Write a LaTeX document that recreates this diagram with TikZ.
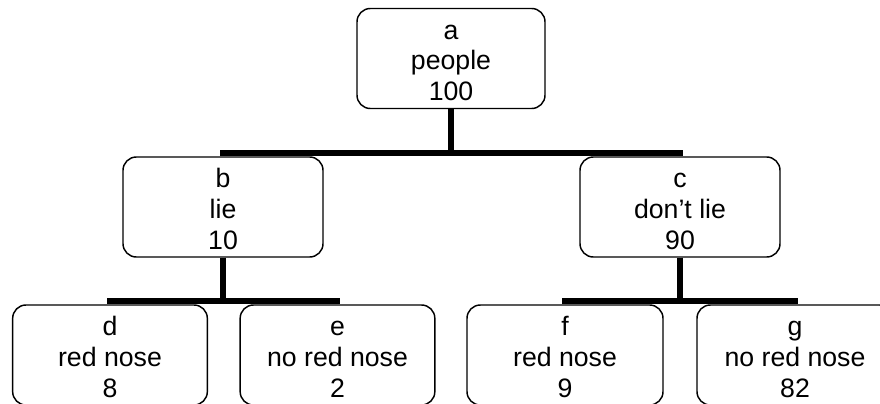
\documentclass[tikz,border=0pt]{standalone}
\usepackage{fontspec}
\setmainfont{Liberation Sans}
\usetikzlibrary{positioning}
\tikzset{
    x=0.75pt,
    y=-0.75pt,
    group/.style = {
        draw,
        shape=rectangle,
        rounded corners=10pt,
        line width=1.1pt,
        minimum height=75pt,
        inner ysep=0pt,
        align=center,
        text height=67pt,
        text depth=4pt,
        font=\fontsize{20}{23}\selectfont
    },
    link/.style = {
        draw,
        line width=4.3pt
    },
}
\begin{document}
\begin{tikzpicture}
                \useasboundingbox (0,0) rectangle (880,403);
                \node[group, minimum width=141pt] (a) at (451,58.5) {a\\people\\100};
                \node[group, minimum width=150pt] (b) at (223,207) {b\\lie\\10};
                \node[group, minimum width=150pt] (c) at (680,207) {c\\don’t lie\\90};
                \node[group, minimum width=146pt] (d) at (110,355) {d\\red nose\\8};
                \node[group, minimum width=146pt] (e) at (337.5,355) {e\\no red nose\\2};
                \node[group, minimum width=147pt] (f) at (565,355) {f\\red nose\\9};
                \node[group, minimum width=147pt] (g) at (795,355) {g\\no red nose\\82};

                \path[link] (a.south) -- ++(0,44) -| (b.north);
                \path[link] (a.south) -- ++(0,44) -| (c.north);
                \path[link] (b.south) -- ++(0,43) -| (d.north);
                \path[link] (b.south) -- ++(0,43) -| (e.north);
                \path[link] (c.south) -- ++(0,43) -| (f.north);
                \path[link] (c.south) -- ++(0,43) -| (g.north);
            \end{tikzpicture}
\end{document}
